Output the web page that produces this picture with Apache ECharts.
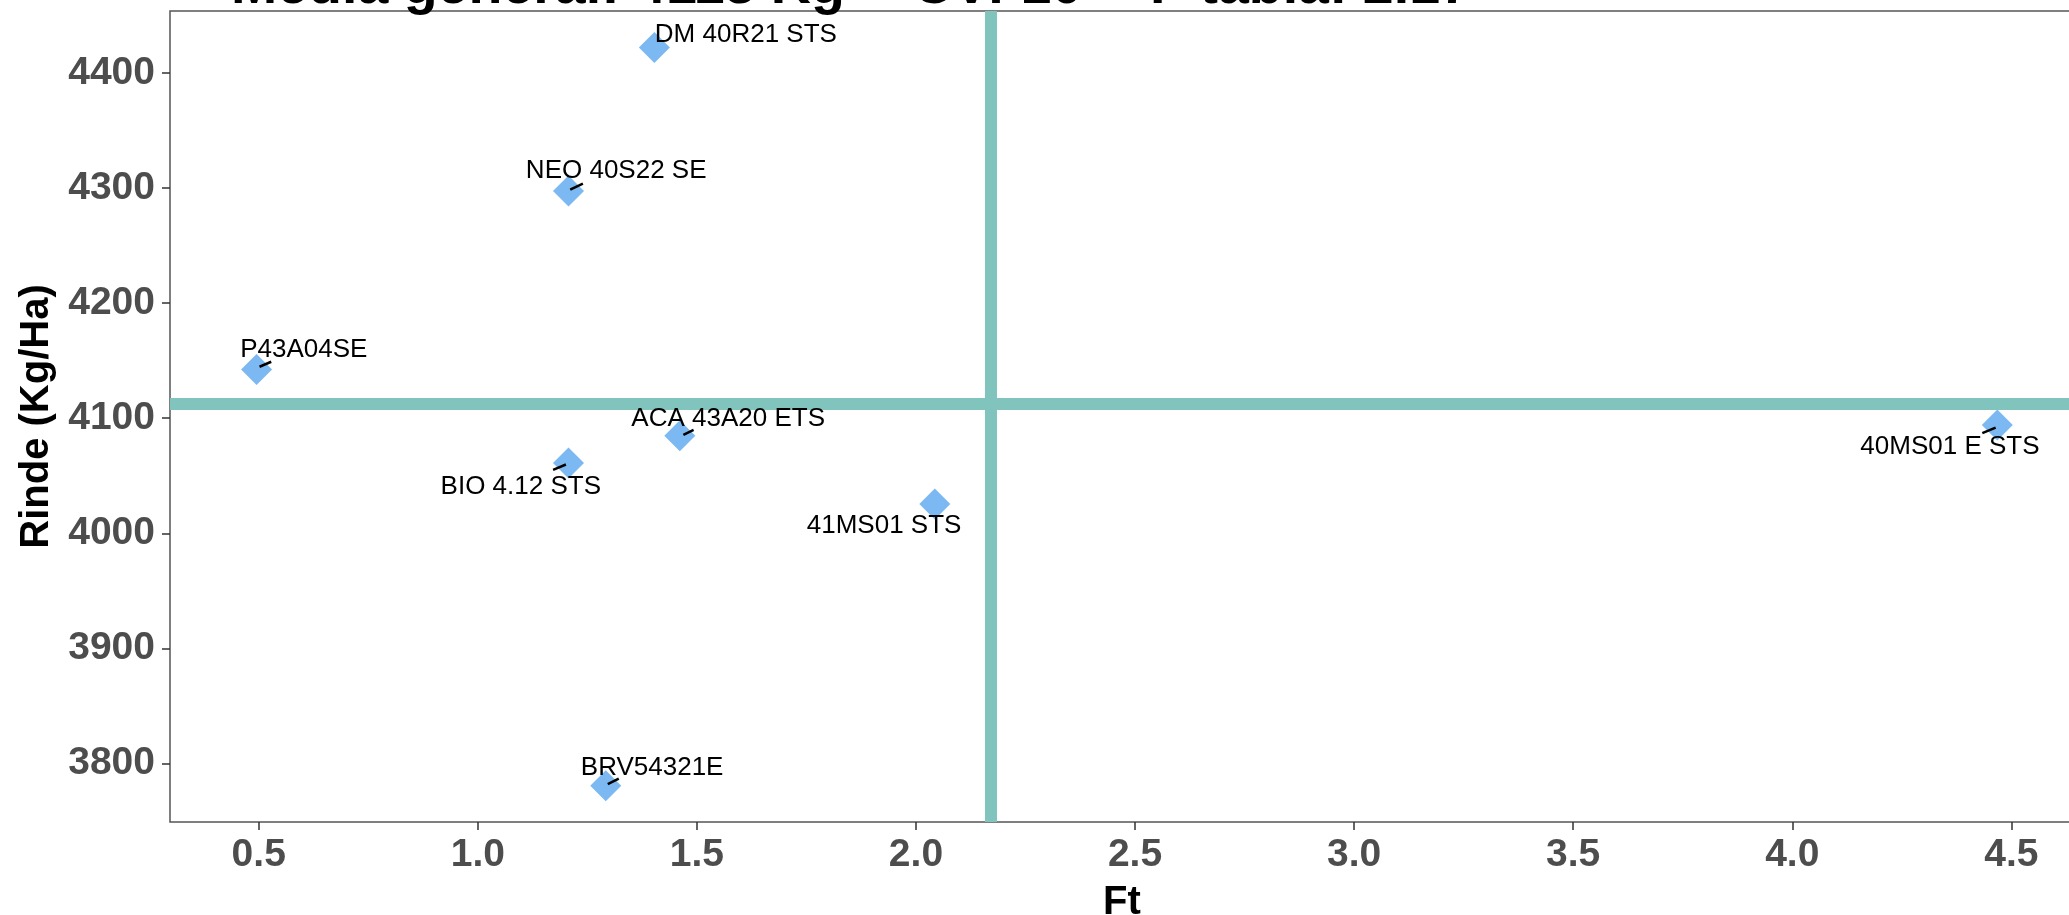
<!DOCTYPE html>
<html>
<head>
<meta charset="utf-8">
<script src="https://cdn.jsdelivr.net/npm/echarts@6/dist/echarts.min.js"></script>
<style>
html,body{margin:0;padding:0;background:#fff;}
#chart{width:2069px;height:915px;}
</style>
</head>
<body>
<div id="chart"></div>
<script>
// ---- data ----
const names = ['DM 40R21 STS','NEO 40S22 SE','P43A04SE','ACA 43A20 ETS','BIO 4.12 STS','41MS01 STS','BRV54321E','40MS01 E STS'];
const ft    = [1.403, 1.207, 0.495, 1.461, 1.207, 2.043, 1.292, 4.468];
const rinde = [4422.2, 4297.5, 4142.4, 4084.7, 4061.0, 4025.4, 3780.6, 4094.2];
const mediaGeneral = 4113;
const fTabla = 2.17;
const cv = 10;
const xTicks = [0.5, 1.0, 1.5, 2.0, 2.5, 3.0, 3.5, 4.0, 4.5];
const yTicks = [3800, 3900, 4000, 4100, 4200, 4300, 4400];
const titleText = 'Media general: ' + mediaGeneral + ' Kg -- CV: ' + cv + ' -- F tabla: ' + fTabla;

// ---- label layout (pixel offsets from each point, style only) ----
const labelOffsets = [[91.5,-13],[47.7,-20.4],[47.3,-19.7],[48.4,-17.2],[-47.7,23.4],[-50.7,21.7],[46.4,-18.3],[-47.4,22]];
const segOffsets = [null,[1.7,-1.4,14.4,-7.4],[3,-2.7,14.7,-7.7],[3.6,-1,13.8,-6],[-15.4,6.7,-2.6,1.4],null,[2,-1.5,13,-7],[-15,8.3,-1.7,2.7]];

const FONT = "'Liberation Sans', Arial, Helvetica, sans-serif";
const points = ft.map((x, i) => [x, rinde[i], i]);

const chart = echarts.init(document.getElementById('chart'), null, {renderer: 'canvas'});
chart.setOption({
  backgroundColor: '#ffffff',
  animation: false,
  graphic: [{
    type: 'text',
    left: 231, top: -40,
    z: 100,
    style: {
      text: titleText,
      font: 'bold 55.5px ' + FONT,
      fill: '#000000'
    }
  }],
  grid: {
    left: 170, right: -5, top: 11, bottom: 93,
    outerBoundsMode: 'none', containLabel: false,
    show: true, borderColor: '#555555', borderWidth: 1.5, backgroundColor: '#ffffff'
  },
  xAxis: {
    type: 'value', min: 0.2975, max: 4.643,
    name: 'Ft', nameLocation: 'middle', nameGap: 61,
    nameTextStyle: {fontFamily: FONT, fontSize: 40, fontWeight: 'bold', color: '#000000'},
    axisLine: {show: false},
    axisTick: {show: true, customValues: xTicks, length: 8, lineStyle: {color: '#333333', width: 1.5}},
    axisLabel: {customValues: xTicks, margin: 14, fontFamily: FONT, fontSize: 39, fontWeight: 'bold', color: '#4d4d4d',
      formatter: v => Number(v).toFixed(1)},
    splitLine: {show: false}
  },
  yAxis: {
    type: 'value', min: 3749, max: 4454,
    name: 'Rinde (Kg/Ha)', nameLocation: 'middle', nameGap: 102,
    nameTextStyle: {fontFamily: FONT, fontSize: 40, fontWeight: 'bold', color: '#000000'},
    axisLine: {show: false},
    axisTick: {show: true, customValues: yTicks, length: 8, lineStyle: {color: '#333333', width: 1.5}},
    axisLabel: {customValues: yTicks, margin: 15, fontFamily: FONT, fontSize: 39, fontWeight: 'bold', color: '#4d4d4d',
      formatter: v => String(Math.round(v))},
    splitLine: {show: false}
  },
  series: [
    {
      type: 'scatter', data: [], z: 1, silent: true,
      markLine: {
        silent: true, symbol: 'none', animation: false,
        label: {show: false},
        lineStyle: {color: '#80c4bd', width: 12, type: 'solid', opacity: 1},
        data: [{xAxis: fTabla}, {yAxis: mediaGeneral}]
      }
    },
    {
      type: 'scatter', z: 3, data: points,
      symbol: 'diamond', symbolSize: 31,
      itemStyle: {color: '#7cb9f2', opacity: 1},
      label: {show: false}
    },
    {
      type: 'custom', z: 5, data: points, clip: false,
      renderItem: function (params, api) {
        const i = api.value(2);
        const p = api.coord([api.value(0), api.value(1)]);
        const children = [];
        const s = segOffsets[i];
        if (s) {
          children.push({
            type: 'line',
            shape: {x1: p[0] + s[0], y1: p[1] + s[1], x2: p[0] + s[2], y2: p[1] + s[3]},
            style: {stroke: '#000000', lineWidth: 2.5}
          });
        }
        const o = labelOffsets[i];
        children.push({
          type: 'text',
          x: p[0] + o[0], y: p[1] + o[1],
          style: {text: names[i], font: '26px ' + FONT, fill: '#000000', align: 'center', verticalAlign: 'middle'}
        });
        return {type: 'group', children: children};
      }
    }
  ]
});
</script>
</body>
</html>
